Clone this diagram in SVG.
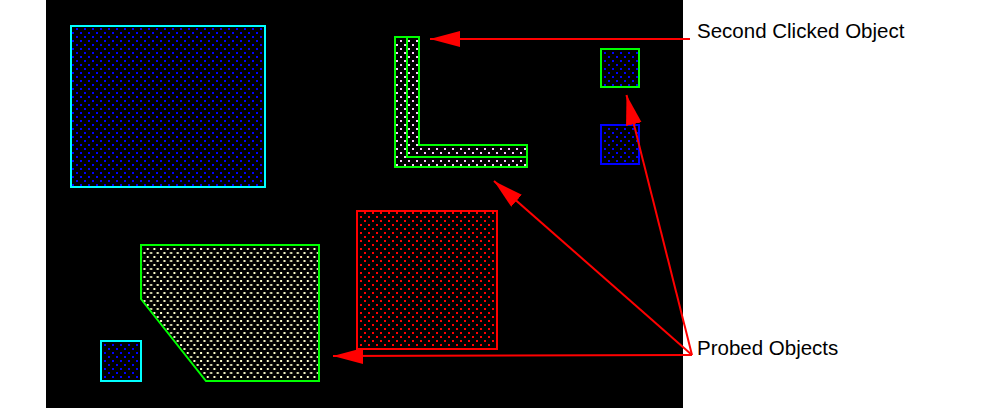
<svg xmlns="http://www.w3.org/2000/svg" width="1008" height="417" viewBox="0 0 1008 417">
  <defs>
    <pattern id="dotBlue" patternUnits="userSpaceOnUse" width="8" height="8">
      <rect x="0" y="0" width="2" height="2" fill="#0000ff"/>
      <rect x="4" y="4" width="2" height="2" fill="#0000ff"/>
    </pattern>
    <pattern id="dotRed" patternUnits="userSpaceOnUse" width="8" height="8">
      <rect x="0" y="0" width="2" height="2" fill="#ff0000"/>
      <rect x="4" y="4" width="2" height="2" fill="#ff0000"/>
    </pattern>
    <pattern id="dotCream" patternUnits="userSpaceOnUse" width="6.67" height="8">
      <rect x="0" y="0" width="2" height="2" fill="#ffffcc"/>
      <rect x="3.33" y="4" width="2" height="2" fill="#ffffcc"/>
    </pattern>
    <pattern id="dotPink" patternUnits="userSpaceOnUse" width="8" height="8">
      <rect x="0" y="0" width="2" height="2" fill="#ffccff"/>
      <rect x="4" y="4" width="2" height="2" fill="#ffccff"/>
    </pattern>
    <marker id="arrow" markerUnits="userSpaceOnUse" markerWidth="32" markerHeight="18" refX="30" refY="8" orient="auto">
      <path d="M0,0 L30,8 L0,16 Z" fill="#ff0000"/>
    </marker>
  </defs>
  <style>
    .obj { stroke-width: 2; }
    .lbl { font-family: "Liberation Sans", Arial, sans-serif; font-size: 20.5px; fill: #000; }
    .conn line { stroke: #ff0000; stroke-width: 2; marker-end: url(#arrow); }
  </style>
  <rect x="0" y="0" width="1008" height="417" fill="#ffffff"/>
  <rect id="canvas" x="46" y="0" width="637" height="408" fill="#000000"/>

  <g id="bigCyanRect">
    <rect x="71" y="26" width="194" height="161" fill="url(#dotBlue)" stroke="#00ffff" class="obj"/>
  </g>
  <g id="smallCyanRect">
    <rect x="101" y="341" width="40" height="40" fill="url(#dotBlue)" stroke="#00ffff" class="obj"/>
  </g>
  <g id="greenPolygon">
    <polygon points="141,245 319,245 319,381 206,381 141,299" fill="url(#dotCream)" stroke="#00ff00" class="obj"/>
  </g>
  <g id="lShape">
    <polygon points="395,37 419,37 419,145 527,145 527,167 395,167" fill="url(#dotPink)" stroke="#00ff00" class="obj"/>
    <polyline points="407,37 407,157 527,157" fill="none" stroke="#00ff00" class="obj"/>
  </g>
  <g id="greenSmallRect">
    <rect x="601" y="49" width="38" height="38" fill="url(#dotBlue)" stroke="#00ff00" class="obj"/>
  </g>
  <g id="blueRect">
    <rect x="601" y="125" width="38" height="39" fill="url(#dotBlue)" stroke="#0000ff" class="obj"/>
  </g>
  <g id="redRect">
    <rect x="357" y="211" width="140" height="138" fill="url(#dotRed)" stroke="#ff0000" class="obj"/>
  </g>

  <g id="connectors" class="conn">
    <line x1="690" y1="39" x2="430" y2="39"/>
    <line x1="692" y1="355" x2="333" y2="356"/>
    <line x1="692" y1="355" x2="494" y2="181"/>
    <line x1="692" y1="355" x2="626.5" y2="95"/>
  </g>

  <g id="labelSecond">
    <text class="lbl" x="697" y="37.5">Second Clicked Object</text>
  </g>
  <g id="labelProbed">
    <text class="lbl" x="697" y="354.5">Probed Objects</text>
  </g>
</svg>
